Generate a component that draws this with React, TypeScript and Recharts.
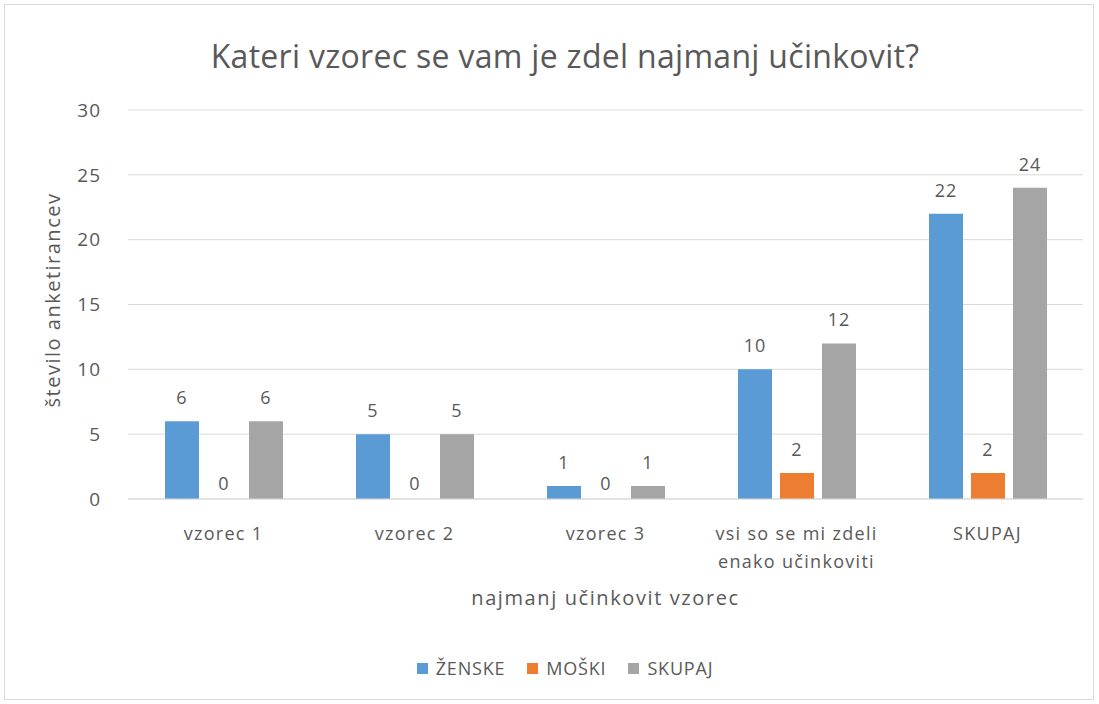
import { BarChart, Bar, XAxis, YAxis, CartesianGrid, LabelList } from 'recharts';

const categories = ['vzorec 1', 'vzorec 2', 'vzorec 3', 'vsi so se mi zdeli|enako učinkoviti', 'SKUPAJ'];
const zenske = [6, 5, 1, 10, 22];
const moski = [0, 0, 0, 2, 2];
const skupaj = [6, 5, 1, 12, 24];
const yTicks = [0, 5, 10, 15, 20, 25, 30];

const series = [
  { key: 'zenske', name: 'ŽENSKE', color: '#5b9bd5', values: zenske },
  { key: 'moski', name: 'MOŠKI', color: '#ed7d31', values: moski },
  { key: 'skupaj', name: 'SKUPAJ', color: '#a5a5a5', values: skupaj },
];

const data = categories.map((c, i) => ({
  name: c,
  zenske: zenske[i],
  moski: moski[i],
  skupaj: skupaj[i],
}));

const FONT = '"Open Sans", "Noto Sans", sans-serif';
const TEXT = '#595959';
const BAR = 34;
const GAP = 8;

// kategorije z več vrsticami (ločene z |), plus oznake "0" za prazne stolpce
function CategoryTick(props: any) {
  const { x, y, payload, index } = props;
  const lines = String(payload.value).split('|');
  return (
    <g>
      {series.map((s, si) =>
        s.values[index] === 0 ? (
          <text
            key={s.key}
            x={x + (si - 1) * (BAR + GAP)}
            y={y - 17}
            textAnchor="middle"
            fill={TEXT}
            fontSize={18}
            fontFamily={FONT}
          >
            0
          </text>
        ) : null
      )}
      <text x={x} y={y} textAnchor="middle" fill={TEXT} fontSize={18} fontFamily={FONT} letterSpacing={1.3}>
        {lines.map((l, i) => (
          <tspan key={i} x={x} dy={i === 0 ? 33 : 28}>{l}</tspan>
        ))}
      </text>
    </g>
  );
}

function ValueLabel(props: any) {
  const { x, y, width, value } = props;
  return (
    <text x={Number(x) + Number(width) / 2} y={Number(y) - 17} textAnchor="middle" fill={TEXT} fontSize={18} fontFamily={FONT} letterSpacing={1}>
      {String(value)}
    </text>
  );
}

export default function App() {
  return (
    <div style={{ position: 'absolute', left: 0, top: 0, width: 1099, height: 704, background: '#fff' }}>
      <div style={{ position: 'absolute', left: 4, top: 4, width: 1088, height: 694, border: '1px solid #d9d9d9' }} />
      <div style={{ position: 'absolute', left: 0, top: 34, width: 1130, textAlign: 'center', fontFamily: FONT, fontSize: 32, letterSpacing: 0.3, color: TEXT }}>
        Kateri vzorec se vam je zdel najmanj učinkovit?
      </div>
      <div style={{ position: 'absolute', left: 128, top: 584, width: 955, textAlign: 'center', fontFamily: FONT, fontSize: 20, letterSpacing: 1.6, color: TEXT }}>
        najmanj učinkovit vzorec
      </div>
      <svg style={{ position: 'absolute', left: 0, top: 0 }} width={80} height={704}>
        <text x={60} y={300} transform="rotate(-90 60 300)" textAnchor="middle" fill={TEXT} fontSize={20} fontFamily={FONT} letterSpacing={1.5}>
          število anketirancev
        </text>
      </svg>
      <div style={{ position: 'absolute', left: 0, top: 656, width: 1130, display: 'flex', justifyContent: 'center', fontFamily: FONT, fontSize: 18, letterSpacing: 0.8, color: TEXT }}>
        {series.map((s) => (
          <span key={s.key} style={{ display: 'flex', alignItems: 'center', margin: '0 11px' }}>
            <span style={{ width: 11, height: 11, background: s.color, marginRight: 8, display: 'inline-block' }} />
            {s.name}
          </span>
        ))}
      </div>
      <div style={{ position: 'absolute', left: 0, top: 0 }}>
        <BarChart
          width={1099}
          height={704}
          data={data}
          margin={{ top: 110, right: 16, bottom: 0, left: 0 }}
          barSize={BAR}
          barGap={GAP}
        >
          <CartesianGrid vertical={false} stroke="#d9d9d9" />
          <XAxis
            dataKey="name"
            axisLine={{ stroke: '#d9d9d9' }}
            tickLine={false}
            tick={<CategoryTick />}
            interval={0}
            height={205}
          />
          <YAxis
            width={128}
            domain={[0, 30]}
            ticks={yTicks}
            axisLine={false}
            tickLine={false}
            tickMargin={21}
            tick={{ fill: TEXT, fontSize: 19, fontFamily: FONT, letterSpacing: 1 }}
          />
          {series.map((s) => (
            <Bar key={s.key} dataKey={s.key} name={s.name} fill={s.color} isAnimationActive={false}>
              <LabelList dataKey={s.key} content={<ValueLabel />} />
            </Bar>
          ))}
        </BarChart>
      </div>
    </div>
  );
}
